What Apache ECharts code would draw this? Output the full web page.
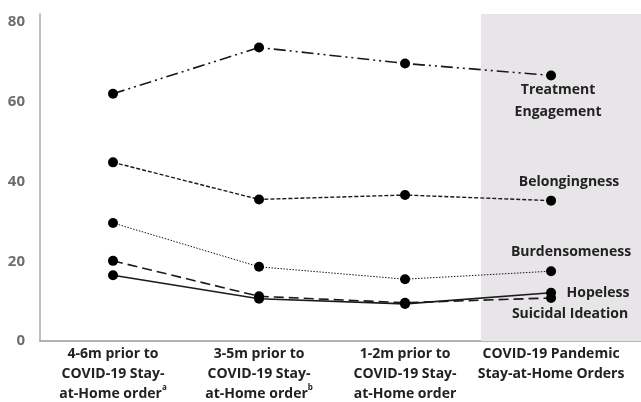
<!DOCTYPE html>
<html><head><meta charset="utf-8">
<script src="https://cdn.jsdelivr.net/npm/echarts@6/dist/echarts.min.js"></script>
<style>html,body{margin:0;padding:0;background:#fff}#c{width:641px;height:402px}</style>
</head><body><div id="c"></div>
<script>
const categories = ['4-6m prior to\nCOVID-19 Stay-\nat-Home order{sup|a}', '3-5m prior to\nCOVID-19 Stay-\nat-Home order{sup|b}', '1-2m prior to\nCOVID-19 Stay-\nat-Home order', 'COVID-19 Pandemic\nStay-at-Home Orders'];
const yTicks = [0, 20, 40, 60, 80];
const treatment = [62.0, 73.6, 69.6, 66.6];
const belonging = [44.8, 35.5, 36.6, 35.2];
const burden = [29.6, 18.6, 15.5, 17.5];
const hopeless = [20.1, 11.2, 9.6, 10.8];
const suicidal = [16.5, 10.6, 9.3, 12.1];
const seriesNames = ['Treatment\nEngagement', 'Belongingness', 'Burdensomeness', 'Hopeless', 'Suicidal Ideation'];

const xs = categories.map((_, i) => i);
const dark = '#1a1a1a';
function mk(name, vals, type, width, off, extra) {
  const data = vals.map((v, i) => [i, v]);
  data[data.length - 1] = {
    value: data[data.length - 1],
    label: { show: true, position: 'inside', offset: off, formatter: name, color: '#222', fontSize: 14, fontWeight: 'bold', fontFamily: 'Open Sans', lineHeight: 22, align: 'center' }
  };
  return Object.assign({
    type: 'line', name: name, data: data, symbol: 'circle', symbolSize: 10,
    itemStyle: { color: '#000' },
    lineStyle: { color: dark, width: width, type: type },
    label: { show: false }, clip: false, z: 3
  }, extra || {});
}
const chart = echarts.init(document.getElementById('c'));
chart.setOption({
  animation: false,
  grid: { left: 40, right: 0, top: 14, bottom: 61, outerBoundsMode: 'none', containLabel: false },
  xAxis: {
    type: 'value', min: -0.5, max: 3.616,
    axisLine: { show: true, onZero: false, lineStyle: { color: '#999', width: 1.5 } },
    axisTick: { show: false }, splitLine: { show: false },
    axisLabel: {
      customValues: xs, margin: 3,
      formatter: v => categories[Math.round(v)],
      color: '#222', fontSize: 14, fontWeight: 'bold', fontFamily: 'Open Sans', lineHeight: 20,
      rich: { sup: { fontSize: 8, fontWeight: 'bold', fontFamily: 'Open Sans', color: '#222', verticalAlign: 'top', lineHeight: 20, padding: [0, 0, 6, 0] } }
    }
  },
  yAxis: {
    type: 'value', min: 0, max: 82,
    axisLine: { show: true, onZero: false, lineStyle: { color: '#aaa', width: 1.5 } },
    axisTick: { show: false }, splitLine: { show: false },
    axisLabel: { customValues: yTicks, margin: 15, color: '#6e6e6e', fontSize: 15, fontWeight: 'bold', fontFamily: 'Open Sans' }
  },
  series: [
    mk(seriesNames[0], treatment, [12, 4, 2, 4, 2, 4], 1.6, [7, 26], {
      markArea: { silent: true, itemStyle: { color: '#e7e5e7' }, data: [[{ xAxis: 2.52, yAxis: 0 }, { xAxis: 3.616, yAxis: 83.2 }]] }
    }),
    mk(seriesNames[1], belonging, [4, 2], 1.4, [18, -19]),
    mk(seriesNames[2], burden, [1.5, 1.5], 1, [20, -19]),
    mk(seriesNames[3], hopeless, [10, 5], 1.6, [47, -5]),
    mk(seriesNames[4], suicidal, 'solid', 1.6, [19, 21])
  ]
});
</script></body></html>
